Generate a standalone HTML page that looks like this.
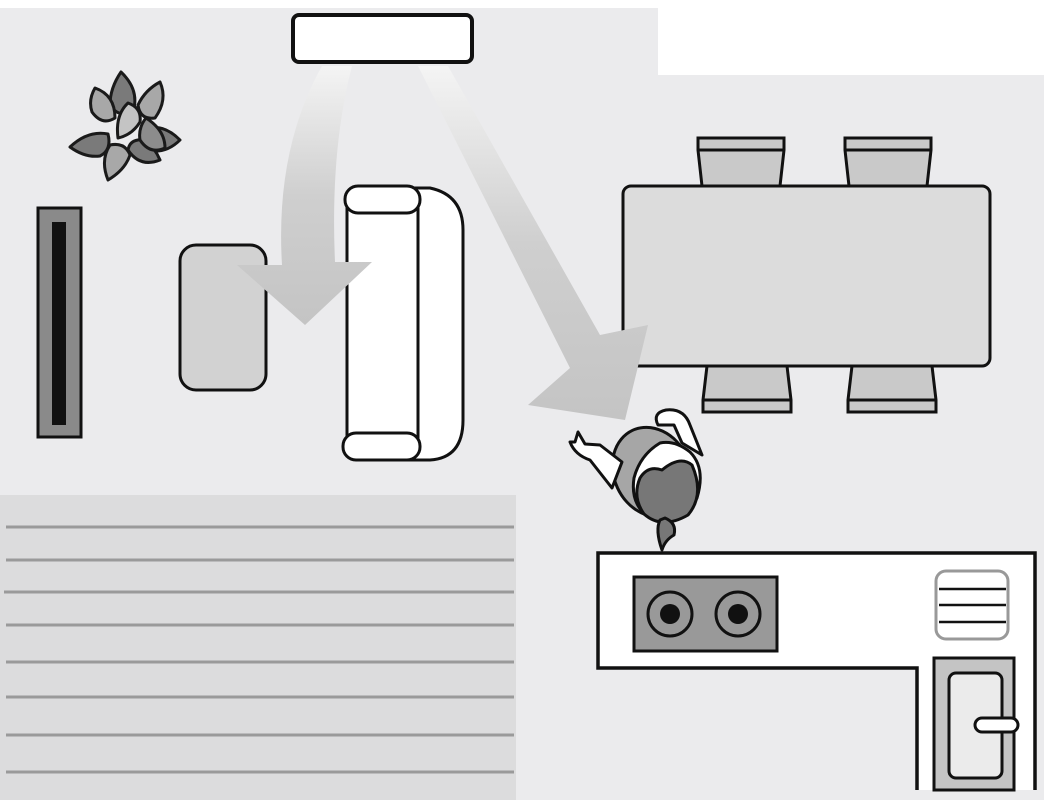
<!DOCTYPE html>
<html><head><meta charset="utf-8"><style>html,body{margin:0;padding:0;background:#fff}svg{display:block}</style></head>
<body>
<svg width="1044" height="800" viewBox="0 0 1044 800" xmlns="http://www.w3.org/2000/svg">
<defs>
<linearGradient id="g1" x1="0" y1="0" x2="0" y2="1"><stop offset="0" stop-color="#f4f4f4"/><stop offset="0.5" stop-color="#cfcfcf"/><stop offset="1" stop-color="#c4c4c4"/></linearGradient>
</defs>
<polygon points="0,8 658,8 658,75 1044,75 1044,800 0,800" fill="#ebebed"/>
<rect x="0" y="495" width="516" height="305" fill="#dcdcdd"/>
<g stroke="#9a9a9a" stroke-width="3">
<line x1="6" y1="527" x2="514" y2="527"/><line x1="6" y1="560" x2="514" y2="560"/><line x1="4" y1="592" x2="514" y2="592"/><line x1="6" y1="625" x2="514" y2="625"/><line x1="6" y1="662" x2="514" y2="662"/><line x1="6" y1="697" x2="514" y2="697"/><line x1="6" y1="735" x2="514" y2="735"/><line x1="6" y1="772" x2="514" y2="772"/>
</g>
<!-- AC -->
<rect x="293" y="15" width="179" height="47" rx="6" fill="#fff" stroke="#111" stroke-width="4"/>
<!-- plant -->
<g stroke="#1a1a1a" stroke-width="3" stroke-linejoin="round">
<path d="M121,72 Q140,90 133,112 Q118,118 110,105 Q110,88 121,72Z" fill="#7a7a7a"/>
<path d="M160,82 Q168,100 155,118 Q140,120 138,105 Q145,90 160,82Z" fill="#a8a8a8"/>
<path d="M95,88 Q115,95 115,118 Q102,126 92,112 Q88,100 95,88Z" fill="#a8a8a8"/>
<path d="M180,140 Q165,155 145,150 Q138,138 150,128 Q165,125 180,140Z" fill="#7a7a7a"/>
<path d="M70,147 Q88,130 108,134 Q112,150 100,156 Q85,158 70,147Z" fill="#7a7a7a"/>
<path d="M160,160 Q140,168 128,150 Q130,138 145,140 Q155,148 160,160Z" fill="#7a7a7a"/>
<path d="M108,180 Q100,160 110,145 Q125,142 130,155 Q125,170 108,180Z" fill="#a8a8a8"/>
<path d="M146,118 Q165,130 165,148 Q150,155 140,140 Q138,128 146,118Z" fill="#8c8c8c"/>
<path d="M118,138 Q115,115 128,103 Q142,108 140,122 Q132,135 118,138Z" fill="#c4c4c4"/>
</g>
<!-- TV -->
<rect x="38" y="208" width="43" height="229" fill="#8a8a8a" stroke="#111" stroke-width="3"/>
<rect x="52" y="222" width="14" height="203" fill="#111"/>
<!-- coffee table -->
<rect x="180" y="245" width="86" height="145" rx="16" fill="#d2d2d2" stroke="#111" stroke-width="3"/>
<!-- sofa -->
<path d="M400,188 L430,188 Q463,195 463,230 L463,420 Q463,458 430,460 L400,460 Z" fill="#fff" stroke="#111" stroke-width="3"/>
<rect x="347" y="200" width="71" height="246" fill="#fff" stroke="#111" stroke-width="3"/>
<rect x="345" y="186" width="75" height="27" rx="13" fill="#fff" stroke="#111" stroke-width="3"/>
<rect x="343" y="433" width="77" height="27" rx="13" fill="#fff" stroke="#111" stroke-width="3"/>
<!-- arrow 1 over furniture -->
<path d="M322,66 L352,66 Q330,150 335,262 L372,262 L305,325 L237,265 L282,265 Q275,150 322,66 Z" fill="url(#g1)"/>
<!-- chairs -->
<g fill="#c9c9c9" stroke="#111" stroke-width="3">
<path d="M698,138 L784,138 L784,150 L780,186 L702,186 L698,150Z"/><line x1="698" y1="150" x2="784" y2="150"/>
<path d="M845,138 L931,138 L931,150 L927,186 L849,186 L845,150Z"/><line x1="845" y1="150" x2="931" y2="150"/>
<path d="M707,366 L787,366 L791,400 L791,412 L703,412 L703,400Z"/><line x1="703" y1="400" x2="791" y2="400"/>
<path d="M852,366 L932,366 L936,400 L936,412 L848,412 L848,400Z"/><line x1="848" y1="400" x2="936" y2="400"/>
</g>
<rect x="623" y="186" width="367" height="180" rx="8" fill="#dcdcdc" stroke="#111" stroke-width="3"/>
<!-- arrow 2 over table -->
<path d="M418,66 L448,66 L600,335 L648,325 L625,420 L528,405 L570,368 Z" fill="url(#g1)"/>
<!-- person -->
<g stroke="#111" stroke-width="3" stroke-linejoin="round">
<ellipse cx="652" cy="472" rx="38" ry="46" transform="rotate(-25 652 472)" fill="#a6a6a6"/>
<path d="M622,462 L600,445 L585,444 L578,432 L575,442 L570,442 Q575,455 590,460 L612,488 Z" fill="#fff"/>
<path d="M682,443 L674,425 L658,425 Q652,413 666,410 Q684,408 690,425 L702,455 Z" fill="#fff"/>
<path d="M660,443 Q640,455 634,478 Q630,505 650,518 Q680,522 697,498 Q706,468 690,452 Q675,440 660,443Z" fill="#fff"/>
<path d="M640,478 Q648,465 662,470 Q680,455 692,465 Q705,495 688,515 Q662,530 644,514 Q632,497 640,478Z" fill="#777"/>
<path d="M665,518 Q677,523 674,535 Q665,540 662,550 Q655,530 660,520Z" fill="#777"/>
</g>
<!-- kitchen -->
<path d="M917,790 L917,668 L598,668 L598,553 L1035,553 L1035,790" fill="#fff" stroke="#111" stroke-width="3.5"/>
<rect x="634" y="577" width="143" height="74" fill="#999" stroke="#111" stroke-width="3"/>
<circle cx="670" cy="614" r="22" fill="#999" stroke="#111" stroke-width="3"/>
<circle cx="670" cy="614" r="10" fill="#111"/>
<circle cx="738" cy="614" r="22" fill="#999" stroke="#111" stroke-width="3"/>
<circle cx="738" cy="614" r="10" fill="#111"/>
<rect x="936" y="571" width="72" height="68" rx="10" fill="#fff" stroke="#999" stroke-width="3"/>
<g stroke="#111" stroke-width="2.5"><line x1="939" y1="589" x2="1006" y2="589"/><line x1="939" y1="605" x2="1006" y2="605"/><line x1="939" y1="622" x2="1006" y2="622"/></g>
<rect x="934" y="658" width="80" height="132" fill="#c4c4c4" stroke="#111" stroke-width="3"/>
<rect x="949" y="673" width="53" height="105" rx="7" fill="#ebebeb" stroke="#111" stroke-width="3"/>
<rect x="975" y="718" width="43" height="14" rx="7" fill="#fff" stroke="#111" stroke-width="3"/>
</svg>
</body></html>
